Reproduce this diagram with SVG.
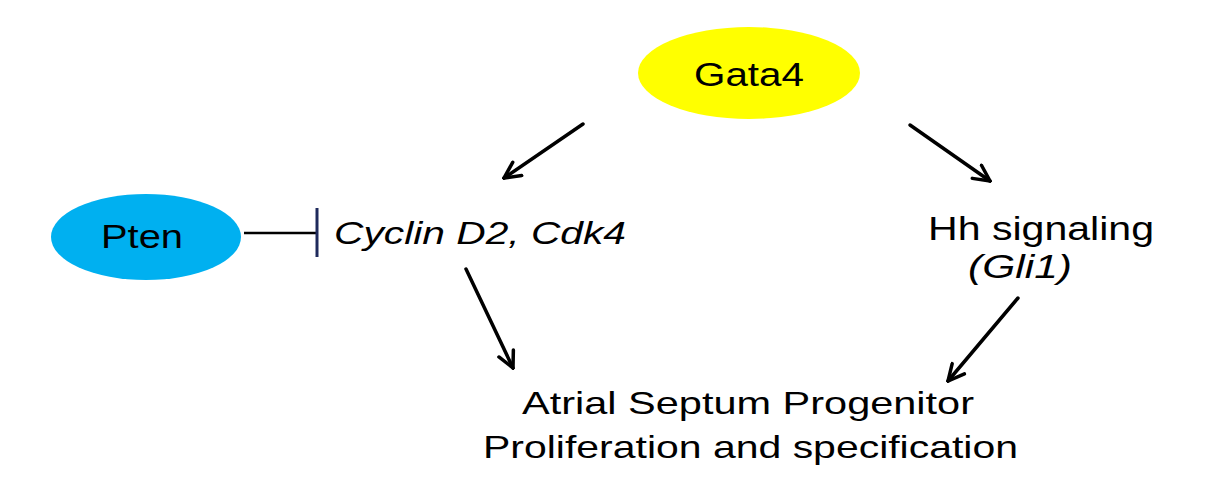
<svg xmlns="http://www.w3.org/2000/svg" width="1219" height="493" viewBox="0 0 1219 493">
<style>
.t{font-family:"Liberation Sans",Arial,sans-serif;fill:#000}
.c{stroke:#000;stroke-width:3.5;fill:none;stroke-linecap:round}
</style>
<defs>
<marker id="ah" viewBox="0 0 20 20" refX="18" refY="10" markerWidth="20" markerHeight="20" markerUnits="userSpaceOnUse" orient="auto">
<path d="M2,2 L18,10 L2,18" fill="none" stroke="#000" stroke-width="3.5" stroke-linecap="round" stroke-linejoin="miter"/>
</marker>
</defs>
<rect width="1219" height="493" fill="#fff"/>
<g id="gata4">
<ellipse cx="749" cy="73" rx="111" ry="46" fill="#FFFF00"/>
<text class="t" x="694" y="86" font-size="34" textLength="110" lengthAdjust="spacingAndGlyphs">Gata4</text>
</g>
<g id="pten">
<ellipse cx="146" cy="237" rx="95" ry="43" fill="#00B0F0"/>
<text class="t" x="101" y="248" font-size="34" textLength="82" lengthAdjust="spacingAndGlyphs">Pten</text>
</g>
<g id="cyclin">
<text class="t" x="334" y="244" font-size="32" font-style="italic" textLength="292" lengthAdjust="spacingAndGlyphs">Cyclin D2, Cdk4</text>
</g>
<g id="hh">
<text class="t" x="928" y="240" font-size="34" textLength="226" lengthAdjust="spacingAndGlyphs">Hh signaling</text>
<text class="t" x="968" y="278" font-size="34" font-style="italic" textLength="104" lengthAdjust="spacingAndGlyphs">(Gli1)</text>
</g>
<g id="atrial">
<text class="t" x="522" y="414" font-size="32" textLength="452" lengthAdjust="spacingAndGlyphs">Atrial Septum Progenitor</text>
<text class="t" x="483" y="458" font-size="32" textLength="535" lengthAdjust="spacingAndGlyphs">Proliferation and specification</text>
</g>
<g id="connectors">
<line class="c" x1="583" y1="124" x2="504" y2="178" marker-end="url(#ah)"/>
<line class="c" x1="910" y1="125" x2="990" y2="181" marker-end="url(#ah)"/>
<line class="c" x1="466" y1="269" x2="513" y2="368" marker-end="url(#ah)"/>
<line class="c" x1="1018" y1="298" x2="948" y2="381" marker-end="url(#ah)"/>
<line x1="244" y1="233" x2="316" y2="233" stroke="#000" stroke-width="2.5"/>
<line x1="317" y1="208" x2="317" y2="257" stroke="#1F2A5C" stroke-width="3"/>
</g>
</svg>
